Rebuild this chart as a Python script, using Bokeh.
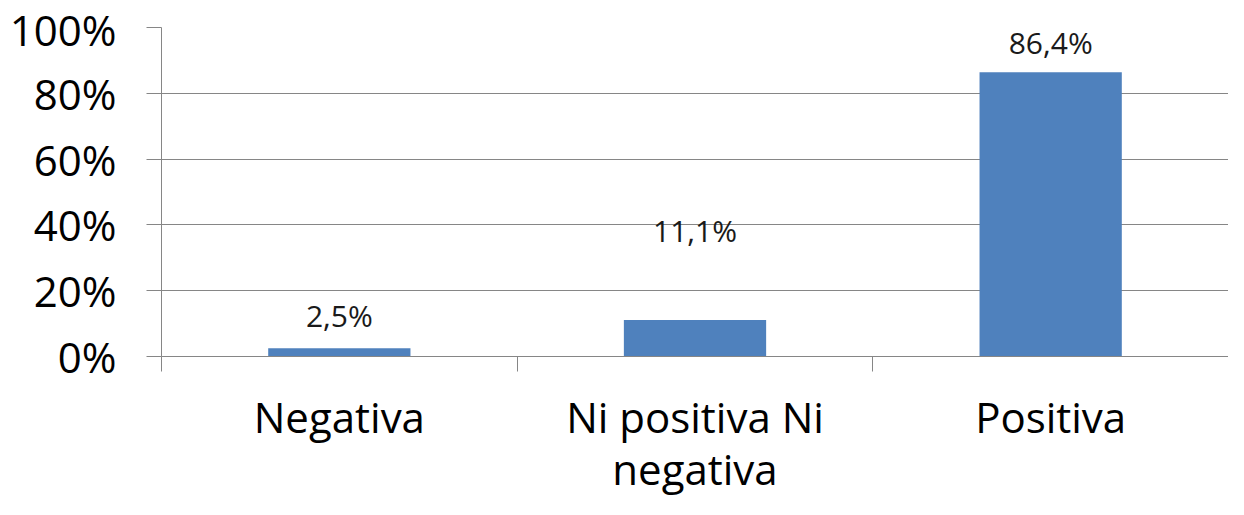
from bokeh.plotting import figure
from bokeh.models import ColumnDataSource, Range1d, FixedTicker, NumeralTickFormatter
from bokeh.core.properties import value
from bokeh.embed import file_html
from bokeh.resources import INLINE

categories = ["Negativa", "Ni positiva Ni negativa", "Positiva"]
display_labels = ["Negativa", "Ni positiva Ni\nnegativa", "Positiva"]
values = [0.025, 0.111, 0.864]
value_labels = ["2,5%", "11,1%", "86,4%"]
label_offsets = [-33, -89, -30]  # pixel offsets of the data labels (style)
y_ticks = [0, 0.2, 0.4, 0.6, 0.8, 1.0]

FONT = "Open Sans"
GRID = "#868686"
BAR = "#4F81BD"

xs = [i + 0.5 for i in range(len(categories))]
src = ColumnDataSource(dict(x=xs, top=values, lab=value_labels, off=label_offsets))

p = figure(width=1228, height=499, output_backend="svg", toolbar_location=None,
           x_range=Range1d(0, len(categories)), y_range=Range1d(0, 1),
           min_border_left=161, min_border_right=0, min_border_top=27, min_border_bottom=130)
p.outline_line_color = None
p.background_fill_color = "white"
p.border_fill_color = "white"

p.vbar(x="x", top="top", width=0.4, bottom=0, source=src, fill_color=BAR, line_color=None)
p.text(x="x", y="top", text="lab", y_offset="off", source=src,
       text_font=value(FONT), text_font_size="30px", text_align="center",
       text_baseline="middle", text_color="#1a1a1a")

# y axis
p.yaxis.ticker = FixedTicker(ticks=y_ticks)
p.yaxis.formatter = NumeralTickFormatter(format="0%")
p.yaxis.major_tick_out = 15
p.yaxis.major_tick_in = 0
p.yaxis.minor_tick_out = 0
p.yaxis.minor_tick_in = 0
p.yaxis.axis_line_color = GRID
p.yaxis.major_tick_line_color = GRID
p.yaxis.major_label_text_font = FONT
p.yaxis.major_label_text_font_size = "42px"
p.yaxis.major_label_text_color = "#000000"
p.yaxis.major_label_standoff = 30
p.ygrid.ticker = FixedTicker(ticks=y_ticks)
p.ygrid.grid_line_color = GRID
p.ygrid.grid_line_width = 1

# x axis: labels at centres, ticks at category boundaries
p.xaxis.ticker = FixedTicker(ticks=xs, minor_ticks=list(range(len(categories) + 1)))
p.xaxis.major_label_overrides = {x: lab for x, lab in zip(xs, display_labels)}
p.xaxis.major_tick_out = 0
p.xaxis.major_tick_in = 0
p.xaxis.minor_tick_out = 15
p.xaxis.minor_tick_in = 0
p.xaxis.minor_tick_line_color = GRID
p.xaxis.axis_line_color = GRID
p.xaxis.major_label_text_font = FONT
p.xaxis.major_label_text_font_size = "42px"
p.xaxis.major_label_text_color = "#000000"
p.xaxis.major_label_text_line_height = 0.92
p.xaxis.major_label_standoff = 16
p.xgrid.grid_line_color = None

open("out.html", "w").write(file_html(p, INLINE))
